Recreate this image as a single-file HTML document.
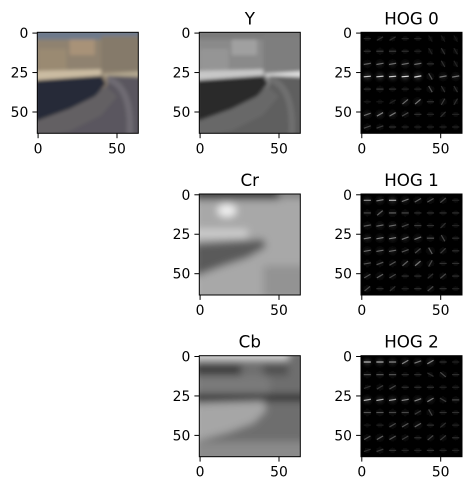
<!DOCTYPE html>
<html><head><meta charset="utf-8"><style>
html,body{margin:0;padding:0;background:#fff;}
svg text{font-family:"DejaVu Sans","Liberation Sans",sans-serif;fill:#000;}
</style></head><body>
<svg id="fig" xmlns="http://www.w3.org/2000/svg" width="474" height="490" viewBox="0 0 474 490">
<defs>
<filter id="blur1"><feGaussianBlur stdDeviation="1.2"/></filter>
<filter id="blur2"><feGaussianBlur stdDeviation="2.5"/></filter>
<filter id="glow"><feGaussianBlur stdDeviation="2"/></filter>
</defs>

<svg x="37.3" y="32.3" width="101" height="101" viewBox="-0.5 -0.5 64 64" preserveAspectRatio="none">
<g filter="url(#blur1)">
<rect x="-2" y="-2" width="68" height="68" fill="#8f8270"/>
<rect x="-2" y="-2" width="68" height="6" fill="#6e7a8c"/>
<rect x="20" y="4" width="16" height="10" fill="#a89278"/>
<rect x="40" y="2" width="24" height="22" fill="#857a6a"/>
<rect x="0" y="10" width="18" height="14" fill="#9a8a72"/>
<polygon points="-2,24 40,23 40,28 -2,30" fill="#cbbca2"/>
<polygon points="40,26 66,24 66,28 44,28" fill="#b4a890"/>
<polygon points="-2,66 66,66 66,28 44,27 44,33" fill="#5a575e"/>
<polygon points="-2,30 40,27 43,32 36,40 20,48 -2,56" fill="#262a38"/>
<path d="M44,29 Q60,34 58,66" stroke="#6e6a72" stroke-width="4" fill="none"/>
<polygon points="-2,56 20,48 36,40 43,34 50,40 40,52 20,62 -2,66" fill="#646064"/>
</g>
</svg>

<svg x="199.3" y="32.3" width="101" height="101" viewBox="-0.5 -0.5 64 64" preserveAspectRatio="none">
<g filter="url(#blur1)">
<rect x="-2" y="-2" width="68" height="68" fill="#8a8a8a"/>
<rect x="-2" y="-2" width="68" height="6" fill="#7a7a7a"/>
<rect x="20" y="4" width="16" height="10" fill="#a0a0a0"/>
<rect x="40" y="2" width="24" height="22" fill="#7e7e7e"/>
<rect x="0" y="10" width="18" height="14" fill="#959595"/>
<polygon points="-2,24 40,23 40,28 -2,30" fill="#c8c8c8"/>
<polygon points="40,26 66,24 66,28 44,28" fill="#e0e0e0"/>
<polygon points="-2,66 66,66 66,28 44,27 44,33" fill="#5e5e5e"/>
<polygon points="-2,30 40,27 43,32 36,40 20,48 -2,56" fill="#2a2a2a"/>
<path d="M44,29 Q60,34 58,66" stroke="#707070" stroke-width="4" fill="none"/>
<polygon points="-2,56 20,48 36,40 43,34 50,40 40,52 20,62 -2,66" fill="#686868"/>
</g>
</svg>

<svg x="199.3" y="194" width="101" height="101" viewBox="-0.5 -0.5 64 64" preserveAspectRatio="none">
<g filter="url(#blur2)">
<rect x="-4" y="-4" width="72" height="72" fill="#a8a8a8"/>
<rect x="-4" y="-4" width="54" height="7" fill="#2e2e2e"/>
<rect x="50" y="-4" width="18" height="6" fill="#7a7a7a"/>
<ellipse cx="17" cy="10" rx="6" ry="4" fill="#f0f0f0"/>
<rect x="-4" y="22" width="34" height="5" fill="#d0d0d0"/>
<polygon points="-4,31 40,28 42,33 30,40 15,45 -4,52" fill="#5a5a5a"/>
<rect x="40" y="45" width="28" height="20" fill="#939393"/>
</g>
</svg>

<svg x="199.3" y="355.7" width="101" height="101" viewBox="-0.5 -0.5 64 64" preserveAspectRatio="none">
<g filter="url(#blur2)">
<rect x="-4" y="-4" width="72" height="72" fill="#6e6e6e"/>
<rect x="-4" y="-4" width="60" height="6" fill="#d8d8d8"/>
<rect x="-4" y="5" width="30" height="7" fill="#3a3a3a"/>
<rect x="40" y="5" width="16" height="7" fill="#505050"/>
<rect x="-4" y="12" width="48" height="12" fill="#7a7a7a"/>
<rect x="-4" y="24" width="72" height="4" fill="#141414"/>
<polygon points="-4,30 40,28 42,34 34,42 18,48 -4,54" fill="#a6a6a6"/>
<rect x="-4" y="54" width="72" height="14" fill="#8a8a8a"/>
</g>
</svg>

<g id="hogs"></g>
<g id="axes"></g>
</svg>
<script>
const hog0 = [
 [0.15,0.2,0.2,0.15,0.15,0.1,0.1,0.1],
 [0.2,0.25,0.25,0.2,0.15,0.15,0.2,0.15],
 [0.4,0.45,0.45,0.45,0.45,0.2,0.2,0.15],
 [0.85,0.85,0.9,0.95,0.9,0.35,0.5,0.5],
 [0.2,0.25,0.2,0.15,0.15,0.35,0.2,0.2],
 [0.1,0.1,0.15,0.45,0.5,0.2,0.25,0.2],
 [0.45,0.55,0.5,0.3,0.2,0.15,0.2,0.15],
 [0.3,0.25,0.2,0.15,0.15,0.15,0.15,0.15]];
const ang0 = [
 [0,-30,-30,0,0,60,60,60],[0,0,0,0,0,60,60,60],[-10,-10,-10,-10,-10,0,60,60],
 [-5,-5,-5,-5,-10,60,-10,-10],[0,0,0,0,0,60,60,60],[0,0,-30,-40,-40,0,-60,-60],
 [-20,-30,-30,-30,0,0,-45,0],[-20,-20,0,0,0,0,0,0]];
const hog1 = [
 [0.6,0.55,0.75,0.5,0.4,0.35,0.3,0.15],
 [0.3,0.4,0.4,0.3,0.2,0.2,0.2,0.2],
 [0.4,0.45,0.45,0.3,0.25,0.2,0.2,0.15],
 [0.55,0.55,0.55,0.5,0.5,0.35,0.3,0.2],
 [0.45,0.45,0.45,0.35,0.3,0.4,0.25,0.2],
 [0.35,0.35,0.35,0.4,0.5,0.3,0.2,0.2],
 [0.35,0.4,0.3,0.2,0.2,0.2,0.3,0.2],
 [0.3,0.2,0.2,0.15,0.2,0.3,0.2,0.15]];
const ang1 = [
 [0,-10,0,-20,-30,-30,-40,0],[0,-40,0,0,0,0,0,0],[-10,-10,-10,-20,0,0,-45,0],
 [-10,-10,-10,-20,-20,0,60,0],[-10,-10,-10,-20,-40,60,-45,0],[-10,-20,-30,-40,-40,-60,0,0],
 [-30,-30,-30,0,0,-40,-40,0],[-40,0,-40,0,0,-40,0,0]];
const hog2 = [
 [0.8,0.75,0.6,0.55,0.5,0.55,0.2,0.15],
 [0.35,0.35,0.35,0.2,0.2,0.2,0.3,0.2],
 [0.2,0.25,0.3,0.2,0.2,0.2,0.15,0.15],
 [0.75,0.7,0.65,0.55,0.55,0.5,0.25,0.3],
 [0.35,0.35,0.3,0.3,0.25,0.3,0.2,0.2],
 [0.1,0.15,0.3,0.35,0.4,0.2,0.2,0.15],
 [0.35,0.4,0.35,0.25,0.2,0.3,0.25,0.2],
 [0.2,0.25,0.2,0.15,0.15,0.2,0.15,0.15]];
const ang2 = [
 [0,0,0,-30,-20,-30,0,0],[0,0,0,0,0,30,40,0],[-20,-30,-30,0,0,0,0,0],
 [-10,-10,-10,-10,-20,-30,30,0],[0,0,0,0,-30,60,0,0],[0,0,-30,-30,-30,0,-40,0],
 [-30,-30,-30,-30,0,-40,-40,0],[-20,-20,0,0,0,0,0,0]];

const NS = "http://www.w3.org/2000/svg";
const AX = 101;
const axesPos = [
 {x:37.3,y:32.3,title:null},{x:199.3,y:32.3,title:"Y"},{x:361,y:32.3,title:"HOG 0"},
 {x:199.3,y:194,title:"Cr"},{x:361,y:194,title:"HOG 1"},
 {x:199.3,y:355.7,title:"Cb"},{x:361,y:355.7,title:"HOG 2"}];
const xTicks = [0,50];
const yTicks = [0,25,50];
const sc = v => (v+0.5)*AX/64;

function mk(tag, attrs, parent){const e=document.createElementNS(NS,tag);for(const k in attrs)e.setAttribute(k,attrs[k]);parent.appendChild(e);return e;}

const hogG = document.getElementById('hogs');
[[hog0,ang0,2],[hog1,ang1,4],[hog2,ang2,6]].forEach(([h,a,idx],hi)=>{
  const p = axesPos[idx];
  const g = mk('g',{},hogG);
  
  
  mk('rect',{x:p.x,y:p.y,width:AX,height:AX,fill:'#000'},g);
  const glowG = mk('g',{filter:'url(#glow)'},g);
  for(let r=0;r<8;r++)for(let c=0;c<8;c++){
    const v=h[r][c], cx=p.x+sc(c*8+3.5), cy=p.y+sc(r*8+3.5);
    const bg=Math.round(70*v);
    mk('circle',{cx:cx,cy:cy,r:3,fill:`rgb(${bg},${bg},${bg})`},glowG);
  }
  for(let r=0;r<8;r++)for(let c=0;c<8;c++){
    const v=h[r][c], cx=p.x+sc(c*8+3.5), cy=p.y+sc(r*8+3.5);
    const t=a[r][c]*Math.PI/180, L=3.6;
    const gv=Math.round(235*v);
    const ln=mk('line',{x1:cx-L*Math.cos(t),y1:cy-L*Math.sin(t),x2:cx+L*Math.cos(t),y2:cy+L*Math.sin(t),stroke:`rgb(${gv},${gv},${gv})`,'stroke-width':1.2},g);
    
    
  }
});

const axG = document.getElementById('axes');
axesPos.forEach((p,i)=>{
  const g = mk('g',{},axG);
  
  
  mk('rect',{x:p.x,y:p.y,width:AX,height:AX,fill:'none',stroke:'#000','stroke-width':1}, g);
  xTicks.forEach(t=>{
    const x=p.x+sc(t);
    mk('line',{x1:x,y1:p.y+AX,x2:x,y2:p.y+AX+4.9,stroke:'#000','stroke-width':1},g);
    const tx=mk('text',{x:x,y:p.y+AX+20,'font-size':13.9,'text-anchor':'middle'},g);
    tx.textContent=t;
    
    
  });
  yTicks.forEach(t=>{
    const y=p.y+sc(t);
    mk('line',{x1:p.x,y1:y,x2:p.x-4.9,y2:y,stroke:'#000','stroke-width':1},g);
    const tx=mk('text',{x:p.x-9,y:y+5,'font-size':13.9,'text-anchor':'end'},g);
    tx.textContent=t;
    
    
  });
  if(p.title){
    const tt=mk('text',{x:p.x+AX/2,y:p.y-8,'font-size':16.7,'text-anchor':'middle'},g);
    tt.textContent=p.title;
    
    
  }
});
</script>
</body></html>
